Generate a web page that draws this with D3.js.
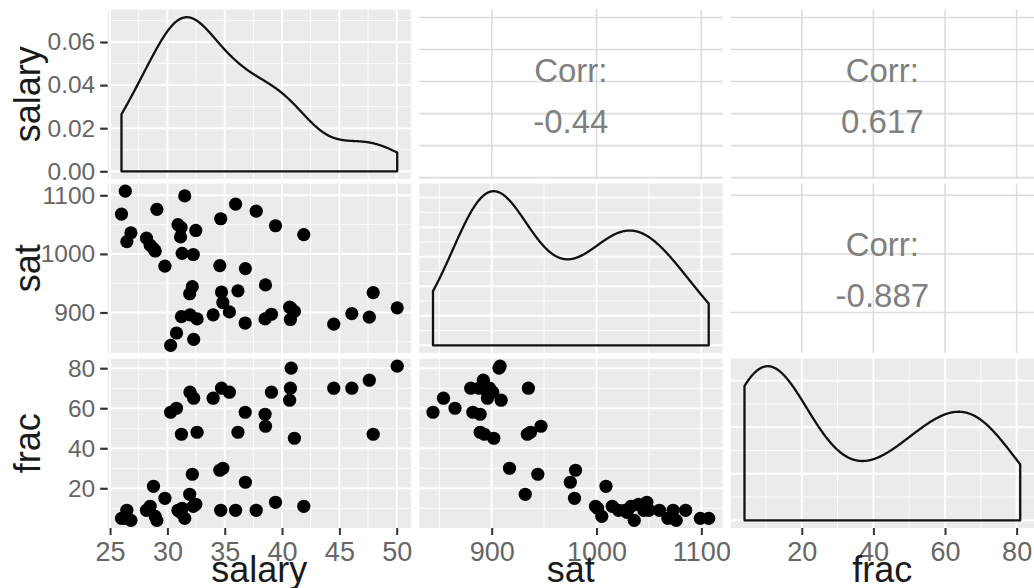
<!DOCTYPE html>
<html><head><meta charset="utf-8">
<script src="https://cdn.jsdelivr.net/npm/d3@7"></script>
<style>
body{margin:0;background:#fff}
svg{display:block;font-family:"Liberation Sans",Arial,Helvetica,sans-serif}
</style>
</head><body>
<svg id="chart" width="1034" height="588"></svg>
<script>
// ---- data (SAT by state) ----
const states = ["Alabama","Alaska","Arizona","Arkansas","California","Colorado","Connecticut","Delaware","Florida","Georgia","Hawaii","Idaho","Illinois","Indiana","Iowa","Kansas","Kentucky","Louisiana","Maine","Maryland","Massachusetts","Michigan","Minnesota","Mississippi","Missouri","Montana","Nebraska","Nevada","New Hampshire","New Jersey","New Mexico","New York","North Carolina","North Dakota","Ohio","Oklahoma","Oregon","Pennsylvania","Rhode Island","South Carolina","South Dakota","Tennessee","Texas","Utah","Vermont","Virginia","Washington","West Virginia","Wisconsin","Wyoming"];
const salary = [31.144,47.951,32.175,28.934,41.078,34.571,50.045,39.076,32.588,32.291,38.518,29.783,39.431,36.785,31.511,34.652,32.257,26.461,31.972,40.661,40.795,41.895,35.948,26.818,31.189,28.785,30.922,34.836,34.720,46.087,28.493,47.612,30.793,26.327,36.802,28.172,38.555,44.510,40.729,30.279,25.994,32.477,31.223,29.082,35.406,33.987,36.151,31.944,37.746,31.285];
const sat = [1029,934,944,1005,902,980,908,897,889,854,889,979,1048,882,1099,1060,999,1021,896,909,907,1033,1085,1036,1045,1009,1050,917,935,898,1015,892,865,1107,975,1027,947,880,888,844,1068,1040,893,1076,901,896,937,932,1073,1001];
const frac = [8,47,27,6,45,29,81,68,48,65,57,15,13,58,5,9,11,9,68,64,80,11,9,4,9,21,9,30,70,70,11,74,60,5,23,9,51,70,70,58,5,12,47,4,68,65,48,17,9,10];

const varNames = ["salary","sat","frac"];
const salaryTicks = [25,30,35,40,45,50];
const satTicks = [900,1000,1100];
const fracTicks = [20,40,60,80];
const densityTicks = [0,0.02,0.04,0.06];
const corrLabels = ["-0.44","0.617","-0.887"]; // panels (1,2),(1,3),(2,3)

// ---- layout ----
const colX = [107.7, 419.2, 730.7], panelW = 303.3;
const rowY = [9.5, 183.5, 358.5], panelH = 169.5;

const vars = [salary, sat, frac];
const ticks = [salaryTicks, satTicks, fracTicks];
const corGridX = [salaryTicks, satTicks, [0].concat(fracTicks)];

const svg = d3.select("#chart");

function expand(ext){ const r = ext[1]-ext[0]; return [ext[0]-0.05*r, ext[1]+0.05*r]; }
const xs = vars.map((v,j)=>d3.scaleLinear().domain(expand(d3.extent(v))).range([colX[j], colX[j]+panelW]));
const ys = vars.map((v,i)=>d3.scaleLinear().domain(expand(d3.extent(v))).range([rowY[i]+panelH, rowY[i]]));

// kernel density (gaussian, bw.nrd0) like geom_density
function bwNrd0(x){
  const s = d3.deviation(x);
  const so = x.slice().sort(d3.ascending);
  const iqr = d3.quantile(so,0.75)-d3.quantile(so,0.25);
  return 0.9*Math.min(s, iqr/1.34)*Math.pow(x.length,-0.2);
}
function kde(x){
  const bw = bwNrd0(x), [a,b] = d3.extent(x), n = 512, out = [];
  for(let i=0;i<n;i++){
    const t = a+(b-a)*i/(n-1); let s = 0;
    for(const v of x){ const z=(t-v)/bw; s+=Math.exp(-0.5*z*z); }
    out.push([t, s/(x.length*bw*Math.sqrt(2*Math.PI))]);
  }
  return out;
}
const dens = vars.map(kde);
const dys = dens.map((d,i)=>{
  const m = d3.max(d, p=>p[1]);
  return d3.scaleLinear().domain([-0.05*m, 1.05*m]).range([rowY[i]+panelH, rowY[i]]);
});

function minorBreaks(major, dom){
  const b = major.slice(); const bd = b[1]-b[0];
  if(dom[0] < b[0]) b.unshift(b[0]-bd);
  if(dom[1] > b[b.length-1]) b.push(b[b.length-1]+bd);
  const m = [];
  for(let k=0;k<b.length-1;k++) m.push(b[k]+bd/2);
  return m.filter(v=>v>=dom[0] && v<=dom[1]);
}

const gridG = svg.append("g");
const dataG = svg.append("g");

for(let i=0;i<3;i++){
  for(let j=0;j<3;j++){
    const x = xs[j];
    const x0 = colX[j], x1 = colX[j]+panelW, y0 = rowY[i], y1 = rowY[i]+panelH;
    if(i < j){
      // correlation panel: white bg, grey major grid
      const yScale = ys[i];
      const g = gridG.append("g");
      corGridX[j].filter(v=>x(v)>=x0-0.5 && x(v)<=x1).forEach(v=>{
        g.append("line").attr("x1",x(v)).attr("x2",x(v)).attr("y1",y0).attr("y2",y1)
          .attr("stroke","#dcdcdc").attr("stroke-width",1.6);
      });
      ticks[i].filter(v=>yScale(v)>=y0 && yScale(v)<=y1).forEach(v=>{
        g.append("line").attr("x1",x0).attr("x2",x1).attr("y1",yScale(v)).attr("y2",yScale(v))
          .attr("stroke","#dcdcdc").attr("stroke-width",1.6);
      });
      const idx = (i===0 && j===1)?0 : (i===0 && j===2)?1 : 2;
      const cx = (x0+x1)/2, cy = (y0+y1)/2;
      const t = dataG.append("text").attr("text-anchor","middle").attr("fill","#808080")
        .attr("font-size",33);
      t.append("tspan").attr("x",cx).attr("y",cy-12.5).text("Corr:");
      t.append("tspan").attr("x",cx).attr("y",cy+39).text(corrLabels[idx]);
      continue;
    }
    // grey panels
    const yScale = (i===j) ? dys[i] : ys[i];
    const yMajor = (i===j) ? (i===0 ? densityTicks : yScale.ticks(5)) : ticks[i];
    const yMinor = minorBreaks(yMajor, yScale.domain());
    const xMajor = ticks[j];
    const xMinor = minorBreaks(xMajor, x.domain());
    const g = gridG.append("g");
    g.append("rect").attr("x",x0).attr("y",y0).attr("width",panelW).attr("height",panelH).attr("fill","#ebebeb");
    yMinor.forEach(v=>g.append("line").attr("x1",x0).attr("x2",x1).attr("y1",yScale(v)).attr("y2",yScale(v)).attr("stroke","#fff").attr("stroke-width",0.9));
    xMinor.forEach(v=>g.append("line").attr("x1",x(v)).attr("x2",x(v)).attr("y1",y0).attr("y2",y1).attr("stroke","#fff").attr("stroke-width",0.9));
    yMajor.filter(v=>yScale(v)>=y0&&yScale(v)<=y1).forEach(v=>g.append("line").attr("x1",x0).attr("x2",x1).attr("y1",yScale(v)).attr("y2",yScale(v)).attr("stroke","#fff").attr("stroke-width",1.9));
    xMajor.forEach(v=>g.append("line").attr("x1",x(v)).attr("x2",x(v)).attr("y1",y0).attr("y2",y1).attr("stroke","#fff").attr("stroke-width",1.9));

    if(i===j){
      const d = dens[i];
      const pts = [[d[0][0],0]].concat(d).concat([[d[d.length-1][0],0]]);
      const line = d3.line().x(p=>x(p[0])).y(p=>yScale(p[1]));
      dataG.append("path").attr("d", line(pts)+"Z").attr("fill","none")
        .attr("stroke","#111").attr("stroke-width",2.3).attr("stroke-linejoin","round");
    } else {
      const xv = vars[j], yv = vars[i];
      dataG.append("g").selectAll("circle").data(d3.range(xv.length)).join("circle")
        .attr("cx",k=>x(xv[k])).attr("cy",k=>yScale(yv[k])).attr("r",6.6).attr("fill","#000");
    }
  }
}

// ---- axes ----
const axG = svg.append("g");
// left axes
for(let i=0;i<3;i++){
  const sc = i===0 ? dys[0] : ys[i];
  const tv = i===0 ? densityTicks : ticks[i];
  const fmt = i===0 ? d3.format(".2f") : d3.format("d");
  const ax = d3.axisLeft(sc).tickValues(tv).tickFormat(fmt).tickSize(7.5).tickPadding(5);
  const g = axG.append("g").attr("transform",`translate(${colX[0]},0)`).call(ax);
  g.select(".domain").remove();
  g.selectAll(".tick line").attr("stroke","#333").attr("stroke-width",2.2);
  g.selectAll(".tick text").attr("fill","#666").attr("font-size",24.5)
    .attr("font-family","Liberation Sans, Arial, sans-serif");
  // row title
  axG.append("text").attr("transform",`translate(40,${rowY[i]+panelH/2}) rotate(-90)`)
    .attr("text-anchor","middle").attr("font-size",36).attr("fill","#1a1a1a").text(varNames[i]);
}
// bottom axes
for(let j=0;j<3;j++){
  const ax = d3.axisBottom(xs[j]).tickValues(ticks[j]).tickFormat(d3.format("d")).tickSize(7).tickPadding(7);
  const g = axG.append("g").attr("transform",`translate(0,${rowY[2]+panelH})`).call(ax);
  g.select(".domain").remove();
  g.selectAll(".tick line").attr("stroke","#333").attr("stroke-width",2);
  g.selectAll(".tick text").attr("fill","#666").attr("font-size",27)
    .attr("font-family","Liberation Sans, Arial, sans-serif");
  axG.append("text").attr("x",colX[j]+panelW/2).attr("y",582)
    .attr("text-anchor","middle").attr("font-size",36).attr("fill","#1a1a1a").text(varNames[j]);
}
</script>
</body></html>
